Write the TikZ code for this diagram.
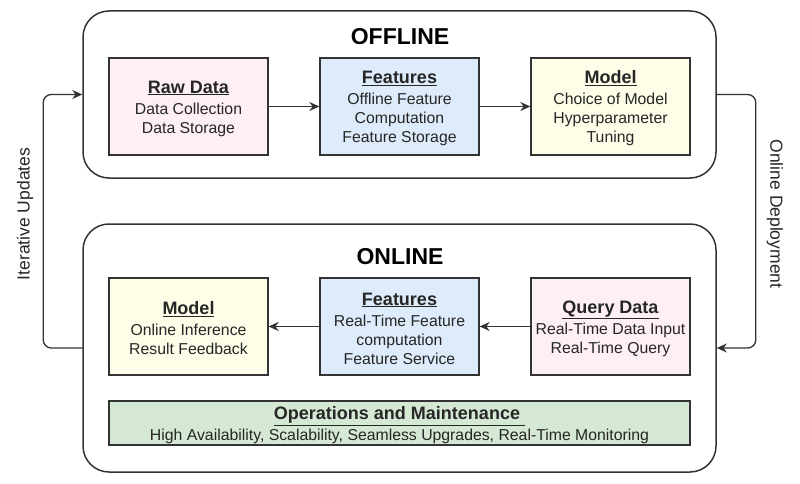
\documentclass[tikz,border=0pt]{standalone}
\usepackage{fontspec}
\setmainfont{Liberation Sans}
\usetikzlibrary{arrows.meta}
\definecolor{linec}{HTML}{333333}
\definecolor{pinkf}{HTML}{FDEFF3}
\definecolor{bluef}{HTML}{DEEBFA}
\definecolor{yellf}{HTML}{FDFDE8}
\definecolor{greenf}{HTML}{D5E8D4}
\tikzset{
  container/.style={draw=linec, line width=1.5pt, rounded corners=26pt, minimum width=633pt, inner sep=0pt},
  card/.style={draw=linec, line width=1.3pt, minimum width=159pt, minimum height=97pt, inner sep=0pt},
  cardtxt/.style={inner sep=0pt, align=center, font=\fontsize{15.8}{19}\selectfont, text=black!85},
  ttl/.style={font=\fontsize{23}{26}\selectfont\bfseries},
  flow/.style={draw=linec, line width=1.3pt, -{Stealth[length=10pt,width=9pt]}},
  side/.style={font=\fontsize{17.5}{20}\selectfont, text=black!85},
}
\newcommand{\hd}[1]{{\fontsize{18}{21}\selectfont\bfseries\underline{#1}}\\[2pt]}
\begin{document}
\begin{tikzpicture}[x=1pt,y=-1pt]
\useasboundingbox (0,0) rectangle (800,484);
% containers
\node[container, minimum height=167pt] (off) at (399.5,94.5) {};
\node[container, minimum height=248pt] (on) at (399.5,348) {};
\node[ttl] (offt) at (400,37) {OFFLINE};
\node[ttl] (ont) at (400,257) {ONLINE};
% offline cards
\node[card, fill=pinkf] (raw) at (188.5,106.5) {};
\node[card, fill=bluef] (feat) at (399.5,106.5) {};
\node[card, fill=yellf] (mod) at (610.5,106.5) {};
\node[cardtxt] (rawt) at ([yshift=-2pt]raw.center) {\hd{Raw Data}Data Collection\\Data Storage};
\node[cardtxt] (featt) at ([yshift=-2pt]feat.center) {\hd{Features}Offline Feature\\Computation\\Feature Storage};
\node[cardtxt] (modt) at ([yshift=-2pt]mod.center) {\hd{Model}Choice of Model\\Hyperparameter\\Tuning};
% online cards
\node[card, fill=yellf] (omod) at (188.5,326.5) {};
\node[card, fill=bluef] (ofeat) at (399.5,326.5) {};
\node[card, fill=pinkf] (qry) at (610.5,326.5) {};
\node[cardtxt] (omodt) at ([yshift=-2pt]omod.center) {\hd{Model}Online Inference\\Result Feedback};
\node[cardtxt] (ofeatt) at ([yshift=-2pt]ofeat.center) {\hd{Features}Real-Time Feature\\computation\\Feature Service};
\node[cardtxt] (qryt) at ([yshift=-2pt]qry.center) {\hd{Query Data}Real-Time Data Input\\Real-Time Query};
\node[card, fill=greenf, minimum width=581pt, minimum height=44pt] (ops) at (399.5,423) {};
\node[cardtxt] (opst) at ([yshift=-2.5pt]ops.center) {\hd{Operations and Maintenance\ }High Availability, Scalability, Seamless Upgrades, Real-Time Monitoring};
% arrows
\draw[flow] (raw) -- (feat);
\draw[flow] (feat) -- (mod);
\draw[flow] (qry) -- (ofeat);
\draw[flow] (ofeat) -- (omod);
\draw[flow, rounded corners=8pt] (on.west) -- ++(-39,0) |- (off.west);
\draw[flow, rounded corners=8pt] (off.east) -- ++(39,0) |- (on.east);
\node[side, rotate=90] (itl) at (25,214) {Iterative Updates};
\node[side, rotate=-90] (dpl) at (775,214) {Online Deployment};
\end{tikzpicture}
\end{document}
